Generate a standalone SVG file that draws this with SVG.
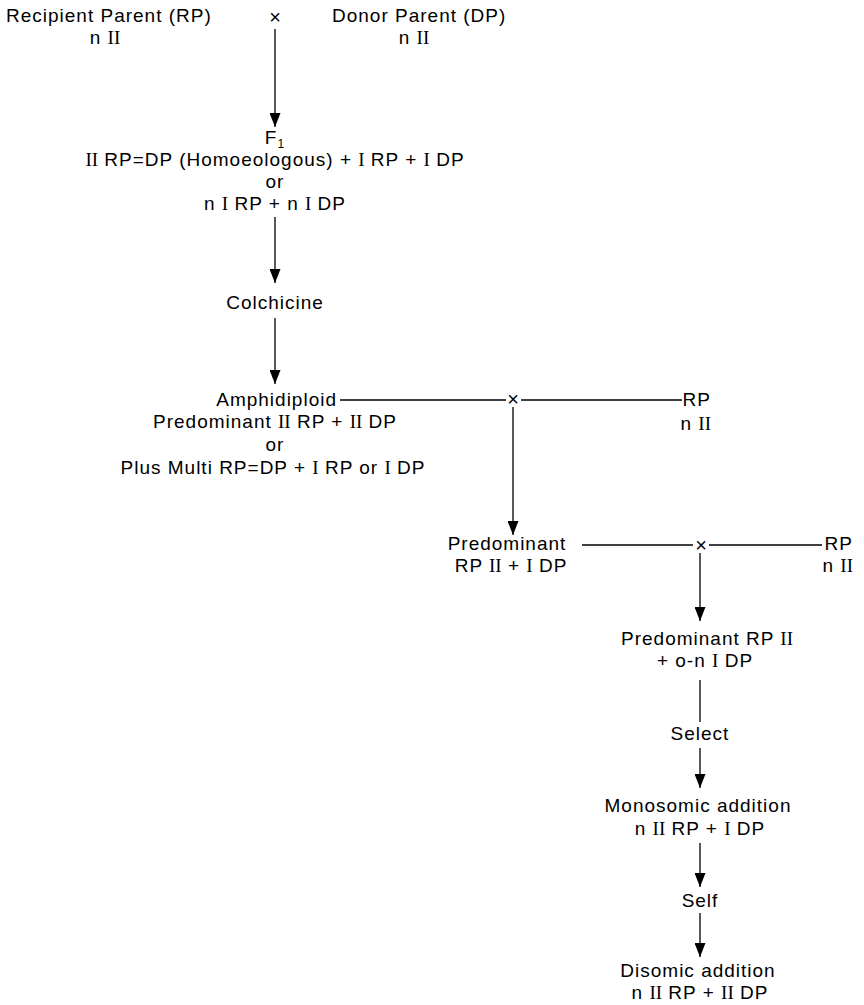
<svg xmlns="http://www.w3.org/2000/svg" width="864" height="1005" viewBox="0 0 864 1005">
<style>
text { font-family: "Liberation Sans", Arial, sans-serif; font-size: 19px; letter-spacing: 1px; fill: #000; }
.m { text-anchor: middle; }
.e { text-anchor: end; }
.r { font-family: "Liberation Serif", "Times New Roman", serif; letter-spacing: 0; }
.x { font-size: 20px; letter-spacing: 0; }
.c line { stroke: #000; stroke-width: 1.3; fill: none; }
.c line.a { marker-end: url(#arr); }
</style>
<defs>
<marker id="arr" markerUnits="userSpaceOnUse" markerWidth="14" markerHeight="11" viewBox="0 0 14 11" refX="14" refY="5.5" orient="auto">
<path d="M0,0 L14,5.5 L0,11 z" fill="#000"/>
</marker>
</defs>
<rect width="864" height="1005" fill="#fff"/>
<g id="recipient-parent">
<text x="6" y="22">Recipient Parent (RP)</text>
<text class="m" x="105" y="44">n <tspan class="r">II</tspan></text>
</g>
<g id="cross-1"><text class="m x" x="275" y="24">×</text></g>
<g id="donor-parent">
<text x="332" y="22">Donor Parent (DP)</text>
<text class="m" x="414" y="44">n <tspan class="r">II</tspan></text>
</g>
<g id="f1">
<text class="m" x="275" y="144">F<tspan font-size="12" dy="4">1</tspan></text>
<text class="m" x="275" y="166"><tspan class="r">II</tspan> RP=DP (Homoeologous) + <tspan class="r">I</tspan> RP + <tspan class="r">I</tspan> DP</text>
<text class="m" x="275" y="188">or</text>
<text class="m" x="275" y="210">n <tspan class="r">I</tspan> RP + n <tspan class="r">I</tspan> DP</text>
</g>
<g id="colchicine"><text class="m" x="275" y="309">Colchicine</text></g>
<g id="amphidiploid">
<text class="e" x="337" y="406">Amphidiploid</text>
<text class="m" x="275" y="428">Predominant <tspan class="r">II</tspan> RP + <tspan class="r">II</tspan> DP</text>
<text class="m" x="275" y="451">or</text>
<text class="m" x="273" y="474">Plus Multi RP=DP + <tspan class="r">I</tspan> RP or <tspan class="r">I</tspan> DP</text>
</g>
<g id="cross-2"><text class="m x" x="513" y="406">×</text></g>
<g id="rp-1">
<text class="e" x="711" y="406">RP</text>
<text class="e" x="711" y="430">n <tspan class="r">II</tspan></text>
</g>
<g id="predominant-1">
<text class="m" x="507" y="550">Predominant</text>
<text class="m" x="511" y="572">RP <tspan class="r">II</tspan> + <tspan class="r">I</tspan> DP</text>
</g>
<g id="cross-3"><text class="m x" x="701" y="552">×</text></g>
<g id="rp-2">
<text class="e" x="853" y="550">RP</text>
<text class="e" x="853" y="572">n <tspan class="r">II</tspan></text>
</g>
<g id="predominant-2">
<text class="m" x="707" y="645">Predominant RP <tspan class="r">II</tspan></text>
<text class="m" x="705" y="667">+ o-n <tspan class="r">I</tspan> DP</text>
</g>
<g id="select"><text class="m" x="700" y="740">Select</text></g>
<g id="monosomic-addition">
<text class="m" x="698" y="812">Monosomic addition</text>
<text class="m" x="700" y="835">n <tspan class="r">II</tspan> RP + <tspan class="r">I</tspan> DP</text>
</g>
<g id="self"><text class="m" x="700" y="907">Self</text></g>
<g id="disomic-addition">
<text class="m" x="698" y="977">Disomic addition</text>
<text class="m" x="700" y="999">n <tspan class="r">II</tspan> RP + <tspan class="r">II</tspan> DP</text>
</g>
<g id="connectors" class="c">
<line class="a" x1="275" y1="29" x2="275" y2="127"/>
<line class="a" x1="275" y1="217" x2="275" y2="283"/>
<line class="a" x1="275" y1="318" x2="275" y2="384"/>
<line x1="340" y1="400" x2="506" y2="400"/>
<line x1="521" y1="400" x2="682" y2="400"/>
<line class="a" x1="513" y1="407" x2="513" y2="535"/>
<line x1="582" y1="545" x2="693" y2="545"/>
<line x1="709" y1="545" x2="822" y2="545"/>
<line class="a" x1="700" y1="553" x2="700" y2="621"/>
<line x1="700" y1="680" x2="700" y2="722"/>
<line class="a" x1="700" y1="748" x2="700" y2="788"/>
<line class="a" x1="700" y1="843" x2="700" y2="887"/>
<line class="a" x1="700" y1="913" x2="700" y2="957"/>
</g>
</svg>
